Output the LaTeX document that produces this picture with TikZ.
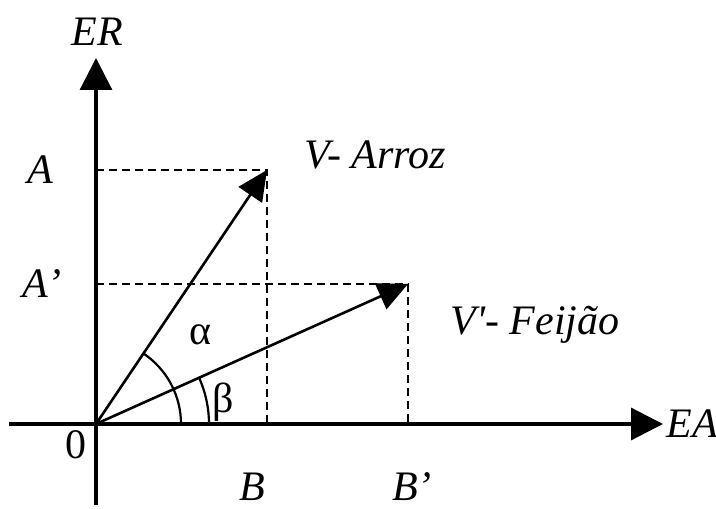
\documentclass[tikz,border=0pt]{standalone}
\usepackage{fontspec}
\setmainfont{Liberation Serif}
\usetikzlibrary{arrows.meta}
\tikzset{>={Triangle[length=16pt,width=16pt]}}
\tikzset{vecarrow/.style={line width=1.3pt, -{Triangle[length=15pt,width=14pt]}}}
\tikzset{guide/.style={line width=1.3pt, dash pattern=on 4pt off 2.5pt}}

\begin{document}
\begin{tikzpicture}[x=0.5pt, y=0.5pt, line width=1.6pt, font=\fontsize{21}{25}\selectfont\itshape]
	\useasboundingbox (0,0) rectangle (716,508);

	\coordinate (O) at (96,84);
	\coordinate (ybot) at (96,3);
	\coordinate (ytop) at (96,450);
	\coordinate (xleft) at (9,84);
	\coordinate (xright) at (663,84);
	\coordinate (V) at (267,338);
	\coordinate (Vf) at (408,224);
	\coordinate (Ay) at (96,338);
	\coordinate (Afy) at (96,224);
	\coordinate (Bx) at (267,84);
	\coordinate (Bfx) at (408,84);

	% axes
	\draw[->] (ybot) -- (ytop);
	\draw[->] (xleft) -- (xright);

	% projections
	\draw[guide] (Ay) -- (V) -- (Bx);
	\draw[guide] (Afy) -- (Vf) -- (Bfx);

	% vectors
	\draw[vecarrow] (O) -- (V);
	\draw[vecarrow] (O) -- (Vf);

	% angles
	\draw[line width=1.1pt] (O) ++(85,0) arc[start angle=0, end angle=56, radius=85];
	\draw[line width=1.1pt] (O) ++(113,0) arc[start angle=0, end angle=24.2, radius=113];

	\node (lblER) at (97,476) {ER};
	\node (lblEA) [anchor=west, inner sep=1pt] at (xright) {EA};
	\node (lblA) at (40,338) {A};
	\node (lblAf) at (42,224) {A’};
	\node (lbl0) at (76,63) {\upshape 0};
	\node (lblB) at (252,21) {B};
	\node (lblBf) at (412,21) {B’};
	\node (lblV) at (375,353) {V- Arroz};
	\node (lblVf) at (535,183) {V\textquotesingle- Feijão};
	\node (alpha) at (200,173) {\upshape α};
	\node (beta) at (223,106) {\upshape β};
\end{tikzpicture}
\end{document}
